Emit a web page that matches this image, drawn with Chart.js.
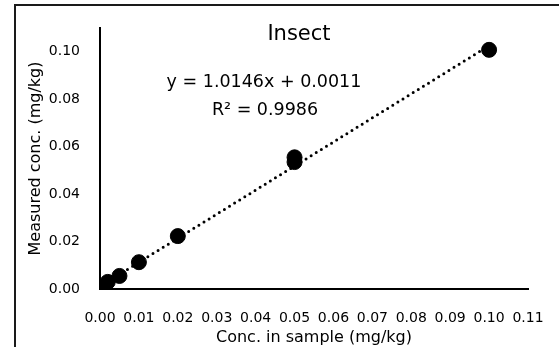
<!DOCTYPE html>
<html>
<head>
<meta charset="utf-8">
<script src="https://cdn.jsdelivr.net/npm/chart.js@4/dist/chart.umd.min.js"></script>
<style>
  html, body { margin: 0; padding: 0; background: #fff; }
  #insectChart { display: block; }
</style>
</head>
<body>
<canvas id="insectChart" width="559" height="347"></canvas>
<script>
// spiked concentration vs measured concentration (mg/kg)
const concInSample = [0.0005, 0.002, 0.005, 0.01, 0.02, 0.05, 0.05, 0.1];
const measuredConc = [0.0008, 0.003, 0.0055, 0.0113, 0.0223, 0.0535, 0.0555, 0.1008];

// linear fit reported for this set
const fitSlope = 1.0146;
const fitIntercept = 0.0011;
const fitR2 = 0.9986;

const chartTitle = 'Insect';
const xTitle = 'Conc. in sample (mg/kg)';
const yTitle = 'Measured conc. (mg/kg)';

const FONT = "'DejaVu Sans', sans-serif";

const points = concInSample.map((x, i) => ({ x: x, y: measuredConc[i] }));
const xFitMin = Math.min(...concInSample);
const xFitMax = Math.max(...concInSample);
const fitLine = [xFitMin, xFitMax].map(x => ({ x: x, y: fitSlope * x + fitIntercept }));

// frame + title + equation text
const labelsPlugin = {
    id: 'labels',
    beforeDraw(chart) {
        const ctx = chart.ctx;
        ctx.save();
        ctx.strokeStyle = '#1a1a1a';
        ctx.lineWidth = 2;
        ctx.beginPath();
        ctx.moveTo(15, 347);
        ctx.lineTo(15, 5);
        ctx.lineTo(559, 5);
        ctx.stroke();
        ctx.restore();
    },
    afterDraw(chart) {
        const ctx = chart.ctx;
        ctx.save();
        ctx.fillStyle = '#000';
        ctx.textAlign = 'center';
        ctx.textBaseline = 'middle';
        ctx.font = '21px ' + FONT;
        ctx.fillText(chartTitle, 299, 35);
        ctx.font = '17.5px ' + FONT;
        ctx.fillText('y = ' + fitSlope.toFixed(4) + 'x + ' + fitIntercept.toFixed(4), 264, 82);
        ctx.fillText('R² = ' + fitR2.toFixed(4), 265, 110);
        ctx.restore();
    }
};

const ctx = document.getElementById('insectChart');

new Chart(ctx, {
    type: 'scatter',
    data: {
        datasets: [
            {
                data: points,
                backgroundColor: '#000',
                borderColor: '#000',
                pointRadius: 7.5,
                pointHoverRadius: 7.5,
                order: 1
            },
            {
                type: 'line',
                data: fitLine,
                borderColor: '#000',
                borderWidth: 3,
                borderDash: [0, 6],
                borderCapStyle: 'round',
                pointRadius: 0,
                fill: false,
                order: 2
            }
        ]
    },
    options: {
        responsive: false,
        animation: false,
        layout: {
            padding: { top: 28, right: 31, left: 0, bottom: 0 }
        },
        scales: {
            x: {
                type: 'linear',
                min: 0,
                max: 0.11,
                grid: { display: false },
                border: { display: true, color: '#000', width: 2 },
                ticks: {
                    stepSize: 0.01,
                    padding: 13,
                    color: '#000',
                    font: { family: FONT, size: 14 },
                    maxRotation: 0,
                    autoSkip: false,
                    callback: v => v.toFixed(2)
                },
                title: {
                    display: true,
                    text: xTitle,
                    color: '#000',
                    font: { family: FONT, size: 16 },
                    padding: 0
                },
                afterFit: scale => { scale.height = 58; }
            },
            y: {
                type: 'linear',
                min: 0,
                max: 0.11,
                grid: { display: false },
                border: { display: true, color: '#000', width: 2 },
                afterBuildTicks: scale => {
                    scale.ticks = scale.ticks.filter(t => t.value <= 0.1 + 1e-9);
                },
                ticks: {
                    stepSize: 0.02,
                    padding: 12,
                    color: '#000',
                    font: { family: FONT, size: 14 },
                    callback: v => v.toFixed(2)
                },
                title: {
                    display: true,
                    text: yTitle,
                    color: '#000',
                    font: { family: FONT, size: 16 },
                    padding: 26
                },
                afterFit: scale => { scale.width = 100; }
            }
        },
        plugins: {
            legend: { display: false },
            tooltip: { enabled: false }
        }
    },
    plugins: [labelsPlugin]
});
</script>
</body>
</html>
